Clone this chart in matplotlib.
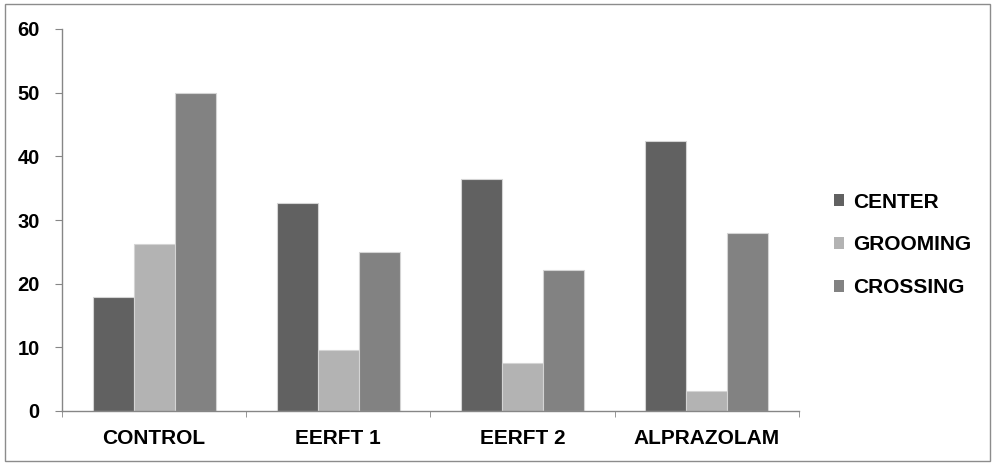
import matplotlib

matplotlib.use("Agg")
import matplotlib.pyplot as plt
import numpy as np
from matplotlib.patches import Rectangle

plt.rcParams["font.family"] = ["Liberation Sans", "DejaVu Sans"]

# datos
categorias = ["CONTROL", "EERFT 1", "EERFT 2", "ALPRAZOLAM"]
center = [17.9, 32.6, 36.5, 42.4]
grooming = [26.2, 9.6, 7.6, 3.1]
crossing = [49.9, 24.9, 22.1, 28.0]

series = [
    ("CENTER", center, "#616161"),
    ("GROOMING", grooming, "#b3b3b3"),
    ("CROSSING", crossing, "#828282"),
]

W, H = 995, 463
fig = plt.figure(figsize=(W / 100, H / 100), dpi=100)
ax = fig.add_axes([62 / W, 1 - 411 / H, (799 - 62) / W, (411 - 29) / H])

x = np.arange(len(categorias))
w = 1 / 4.5
for i, (nombre, vals, color) in enumerate(series):
    ax.bar(x + (i - 1) * w, vals, width=w, color=color, edgecolor="#d4d4d4",
           linewidth=0.8, label=nombre, zorder=2)

ax.set_xlim(-0.5, len(categorias) - 0.5)
ax.set_ylim(0, 60)
ax.set_yticks(range(0, 61, 10))
ax.set_xticks(x)
ax.set_xticklabels(categorias, fontsize=15, fontweight="bold")
ax.set_xticks(np.arange(-0.5, len(categorias)), minor=True)
ax.tick_params(axis="x", which="major", length=0, pad=13)
ax.tick_params(axis="x", which="minor", length=4, color="#868686", direction="out")
ax.tick_params(axis="y", length=5, color="#868686", pad=11, labelsize=14.5)
for lbl in ax.get_yticklabels():
    lbl.set_fontweight("bold")

for s in ["top", "right"]:
    ax.spines[s].set_visible(False)
for s in ["left", "bottom"]:
    ax.spines[s].set_color("#868686")
    ax.spines[s].set_linewidth(1.0)

leg = fig.legend(loc="center left", bbox_to_anchor=(834 / W, 1 - 245 / H),
                 frameon=False, prop={"size": 15, "weight": "bold"},
                 handlelength=0.5, handleheight=0.5, handletextpad=0.4,
                 labelspacing=1.15, borderpad=0, borderaxespad=0)
for h in leg.legend_handles:
    h.set_edgecolor("none")

fig.patches.append(Rectangle((5 / W, 1 - 461 / H), 985 / W, 457 / H,
                             transform=fig.transFigure, fill=False,
                             edgecolor="#8c8c8c", linewidth=1.0))

fig.savefig("out.png", dpi=100, facecolor="white")
